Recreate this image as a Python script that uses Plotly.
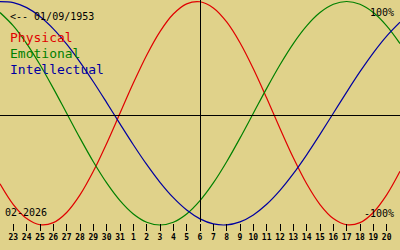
import plotly.graph_objects as go

# Day index 0 = 22 Jan 2026 ... 30 = 21 Feb 2026
day_index = list(range(31))
tick_index = list(range(1, 30))
tick_labels = ["23", "24", "25", "26", "27", "28", "29", "30", "31",
               "1", "2", "3", "4", "5", "6", "7", "8", "9", "10",
               "11", "12", "13", "14", "15", "16", "17", "18", "19", "20"]

physical = [-0.6311, -0.8170, -0.9423, -0.9977, -0.9791, -0.8879, -0.7308, -0.5196,
            -0.2698, 0.0, 0.2698, 0.5196, 0.7308, 0.8879, 0.9791, 0.9977,
            0.9423, 0.8170, 0.6311, 0.3984, 0.1362, -0.1362, -0.3984, -0.6311,
            -0.8170, -0.9423, -0.9977, -0.9791, -0.8879, -0.7308, -0.5196]
emotional = [0.9010, 0.7818, 0.6235, 0.4339, 0.2225, 0.0, -0.2225, -0.4339,
             -0.6235, -0.7818, -0.9010, -0.9749, -1.0, -0.9749, -0.9010, -0.7818,
             -0.6235, -0.4339, -0.2225, 0.0, 0.2225, 0.4339, 0.6235, 0.7818,
             0.9010, 0.9749, 1.0, 0.9749, 0.9010, 0.7818, 0.6235]
intellectual = [0.9989, 0.9898, 0.9450, 0.8660, 0.7557, 0.6182, 0.4582, 0.2817,
                0.0951, -0.0951, -0.2817, -0.4582, -0.6182, -0.7557, -0.8660, -0.9450,
                -0.9898, -0.9989, -0.9718, -0.9096, -0.8146, -0.6901, -0.5406, -0.3717,
                -0.1893, 0.0, 0.1893, 0.3717, 0.5406, 0.6901, 0.8146]

today_index = 15
birth_text = "<-- 01/09/1953"
month_text = "02-2026"

BG = "#E0D28A"
RED = "#E00000"
GREEN = "#008000"
BLUE = "#0000A0"
MONO = "DejaVu Sans Mono"

PLOT_H = 231.0
PX_PER_DAY = 400 / 30

def py(px):
    return 1 - px / PLOT_H

fig = go.Figure()
for vals, col in [(physical, RED), (emotional, GREEN), (intellectual, BLUE)]:
    fig.add_trace(go.Scatter(x=day_index, y=vals, mode="lines",
                             line=dict(color=col, width=1.2, shape="spline", smoothing=1.0),
                             hoverinfo="skip", showlegend=False))

ymax = 1 + 1.5 / 111.75
ymin = ymax - PLOT_H / 111.75

# crosshair (offset half a pixel for crisp 1px lines)
fig.add_shape(type="line", xref="x", yref="paper",
              x0=today_index + 0.5 / PX_PER_DAY, x1=today_index + 0.5 / PX_PER_DAY,
              y0=py(222), y1=1, line=dict(color="black", width=1))
fig.add_shape(type="line", xref="paper", yref="paper", x0=0, x1=1,
              y0=py(115.5), y1=py(115.5), line=dict(color="black", width=1))

def ann(text, x, ypx, size, color="black", anchor="left"):
    fig.add_annotation(text=text, x=x, y=py(ypx), xref="paper", yref="paper",
                       xanchor=anchor, yanchor="middle", showarrow=False,
                       font=dict(family=MONO, size=size, color=color),
                       borderpad=0)

ann(birth_text, 9 / 400, 16.5, 10)
ann("Physical", 9 / 400, 38, 13, RED)
ann("Emotional", 9 / 400, 53.5, 13, GREEN)
ann("Intellectual", 9 / 400, 69, 13, BLUE)
ann("100%", 395 / 400, 13, 10, anchor="right")
ann("-100%", 395 / 400, 213, 10, anchor="right")
ann(month_text, 4 / 400, 212, 10)

fig.update_layout(
    width=400, height=250,
    margin=dict(l=0, r=0, t=0, b=19),
    paper_bgcolor=BG, plot_bgcolor=BG,
    xaxis=dict(range=[0, 30], tickmode="array", tickvals=tick_index, ticktext=tick_labels,
               ticks="inside", ticklen=7, tickwidth=1, tickcolor="black", tickangle=0,
               showgrid=False, zeroline=False, showline=False,
               tickfont=dict(family=MONO, size=8, color="black", weight="bold")),
    yaxis=dict(range=[ymin, ymax], showticklabels=False, showgrid=False,
               zeroline=False, showline=False, ticks=""),
    showlegend=False,
)

fig.write_html("out.html")
